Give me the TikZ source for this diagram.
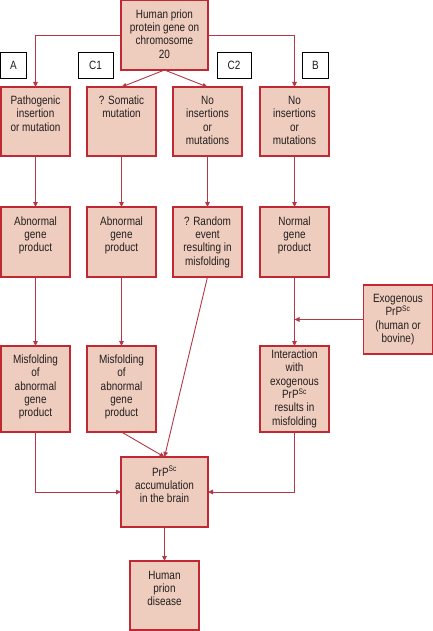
\documentclass[tikz,border=0pt]{standalone}
\usepackage{fontspec}
\setmainfont{Liberation Sans}[FakeStretch=0.83]
\usetikzlibrary{arrows.meta}
\definecolor{boxfill}{RGB}{238,205,190}
\definecolor{boxline}{RGB}{192,40,52}
\definecolor{connline}{RGB}{180,55,68}
\definecolor{txt}{RGB}{35,30,30}
\newcommand\bx[4]{\parbox[c][#2][t]{#1}{\centering\rule{0pt}{#3}#4\par}}
\newcommand\prpsc{PrP\textsuperscript{Sc}}
\begin{document}
\begin{tikzpicture}[x=1pt,y=-1pt,
  box/.style={draw=boxline,fill=boxfill,line width=1.3pt,inner sep=0pt,outer sep=0pt,
    text=txt,font=\fontsize{12}{13.3}\selectfont},
  lbl/.style={draw=black,fill=white,line width=0.9pt,inner sep=0pt,outer sep=0pt,
    minimum height=26pt,text=txt,font=\fontsize{12}{13}\selectfont},
  conn/.style={draw=connline,line width=0.9pt,-{Triangle[length=5pt,width=4.5pt]}}]
\useasboundingbox (0,0) rectangle (433,631);
% top
\node[box] (top) at (164.5,35) {\bx{87pt}{70pt}{18.3pt}{Human prion\\protein gene on\\chromosome\\20}};
% labels
\node[lbl,minimum width=26pt] (lA) at (13.5,65) {A};
\node[lbl,minimum width=35pt] (lC1) at (95.5,65) {C1};
\node[lbl,minimum width=34pt] (lC2) at (234,65) {C2};
\node[lbl,minimum width=26pt] (lB) at (315.5,65) {B};
% row 1
\node[box] (r1a) at (35.5,121.5) {\bx{69pt}{69pt}{17.5pt}{Pathogenic\\insertion\\or mutation}};
\node[box] (r1b) at (121.5,121.5) {\bx{69pt}{69pt}{17.5pt}{? Somatic\\mutation}};
\node[box] (r1c) at (207.5,121.5) {\bx{69pt}{69pt}{17.5pt}{No\\insertions\\or\\mutations}};
\node[box] (r1d) at (294.5,121.5) {\bx{69pt}{69pt}{17.5pt}{No\\insertions\\or\\mutations}};
% row 2
\node[box] (r2a) at (35.5,242) {\bx{69pt}{70pt}{18.3pt}{Abnormal\\gene\\product}};
\node[box] (r2b) at (121.5,242) {\bx{69pt}{70pt}{18.3pt}{Abnormal\\gene\\product}};
\node[box] (r2c) at (207.5,242) {\bx{69pt}{70pt}{18.3pt}{? Random\\event\\resulting in\\misfolding}};
\node[box] (r2d) at (294.5,242) {\bx{69pt}{70pt}{18.3pt}{Normal\\gene\\product}};
% exogenous
\node[box] (exo) at (398,319.5) {\bx{69pt}{69pt}{17.5pt}{Exogenous\\\prpsc\\(human or\\bovine)}};
% row 3
\node[box] (r3a) at (35.5,389) {\bx{69pt}{86pt}{17.5pt}{Misfolding\\of\\abnormal\\gene\\product}};
\node[box] (r3b) at (121.5,389) {\bx{69pt}{86pt}{17.5pt}{Misfolding\\of\\abnormal\\gene\\product}};
\node[box] (r3d) at (294.5,389) {\bx{69pt}{86pt}{12.5pt}{Interaction\\with\\exogenous\\\prpsc\\results in\\misfolding}};
% accumulation
\node[box] (prp) at (164.5,492) {\bx{87pt}{70pt}{19pt}{\prpsc\\accumulation\\in the brain}};
\node[box] (fin) at (164.5,595.5) {\bx{69pt}{69pt}{18.3pt}{Human\\prion\\disease}};
% connectors
\draw[conn] (top.west) -| (r1a.north);
\draw[conn] (top.east) -| (r1d.north);
\draw[conn] (top.south) -- (r1b.north);
\draw[conn] (top.south) -- (r1c.north);
\draw[conn] (r1a) -- (r2a);
\draw[conn] (r1b) -- (r2b);
\draw[conn] (r1c) -- (r2c);
\draw[conn] (r1d) -- (r2d);
\draw[conn] (r2a) -- (r3a);
\draw[conn] (r2b) -- (r3b);
\draw[conn] (r2d) -- (r3d);
\coordinate (join) at (r2d.south |- exo.west);
\draw[conn] (exo.west) -- (join);
\draw[conn] (r2c.south) -- (prp.north);
\draw[conn] (r3b.south) -- (prp.north);
\draw[conn] (r3a.south) |- (prp.west);
\draw[conn] (r3d.south) |- (prp.east);
\draw[conn] (prp) -- (fin);
\end{tikzpicture}
\end{document}
